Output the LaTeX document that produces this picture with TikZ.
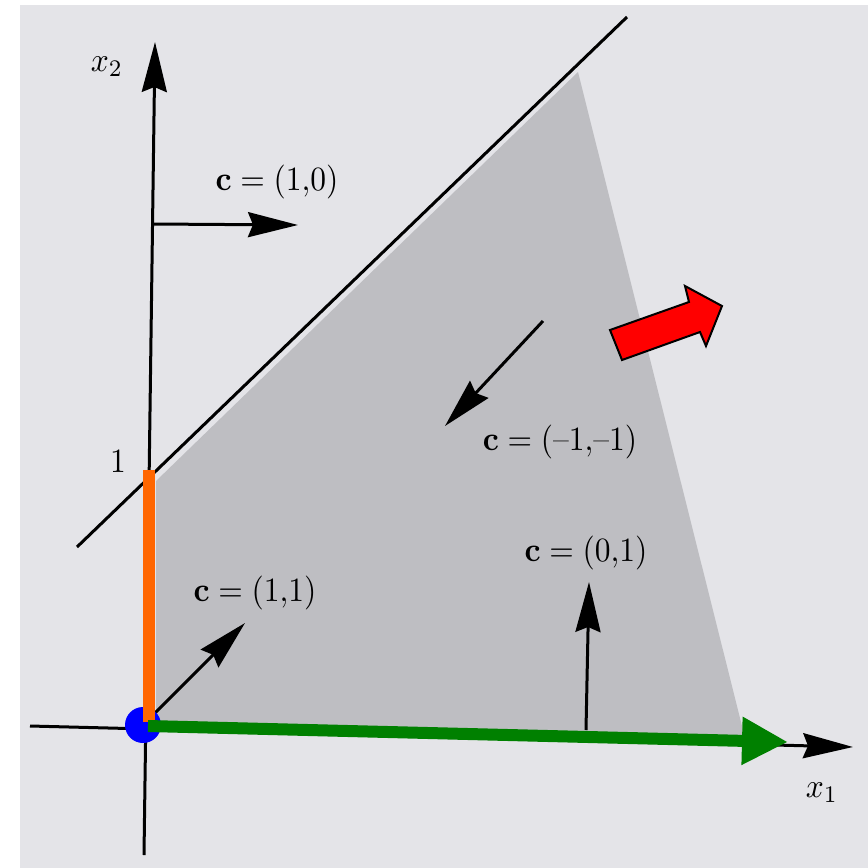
\documentclass[tikz,border=0pt]{standalone}
\usepackage{graphicx}
\usetikzlibrary{arrows.meta}
\definecolor{bgray}{RGB}{228,228,232}
\definecolor{sgray}{RGB}{190,190,194}
\definecolor{myorange}{RGB}{255,102,0}
\definecolor{mygreen}{RGB}{0,128,0}
\definecolor{myblue}{RGB}{0,0,255}
\definecolor{myred}{RGB}{255,0,0}
\newcommand\bigtxt[1]{\scalebox{3.15}[3.4]{#1}}
\tikzset{
  blackarrow/.style={line width=3pt, -{Stealth[length=50pt,width=25pt,inset=5pt]}},
  lab/.style={font=\normalsize, inner sep=0pt},
}
\begin{document}
\begin{tikzpicture}[x=1pt,y=-1pt]
\useasboundingbox (0,0) rectangle (868,868);
\fill[white] (0,0) rectangle (868,868);
\fill[bgray] (20,5) rectangle (868,868);
% feasible region
\fill[sgray] (156,481) -- (578,72) -- (745,738) -- (156,722) -- cycle;
% coordinates
\coordinate (yb) at (144,855);
\coordinate (yt) at (155,42);
\coordinate (xl) at (30,726);
\coordinate (xr) at (853,747);
\coordinate (dl) at (77,547);
\coordinate (dr) at (627,17);
\coordinate (a10s) at (153,224); \coordinate (a10e) at (298,225);
\coordinate (ams) at (543,321);  \coordinate (ame) at (445,426);
\coordinate (a01s) at (586,730); \coordinate (a01e) at (589,582);
\coordinate (a11s) at (155,713); \coordinate (a11e) at (245,623);
% constraint line
\draw[line width=3pt] (dl) -- (dr);
% axes
\draw[blackarrow] (yb) -- (yt);
\draw[blackarrow] (xl) -- (xr);
% objective arrows
\draw[blackarrow] (a10s) -- (a10e);
\draw[blackarrow] (ams) -- (ame);
\draw[blackarrow] (a01s) -- (a01e);
\draw[blackarrow] (a11s) -- (a11e);
% labels
\node[lab] (x2) at (107,67) {\bigtxt{$x_2$}};
\node[lab] (x1) at (822,793) {\bigtxt{$x_1$}};
\node[lab] (one) at (118,462) {\bigtxt{$1$}};
\node[lab] (l10) at (277,182) {\bigtxt{$\mathbf{c} = (1{,}0)$}};
\node[lab] (lmm) at (560,442) {\bigtxt{$\mathbf{c} = (\mbox{--}1{,}\mbox{--}1)$}};
\node[lab] (l01) at (586,553) {\bigtxt{$\mathbf{c} = (0{,}1)$}};
\node[lab] (l11) at (255,593) {\bigtxt{$\mathbf{c} = (1{,}1)$}};
% overlays
\node[circle, fill=myblue, minimum size=36pt, inner sep=0pt] (o) at (143,725) {};
\coordinate (os) at (149,722);
\coordinate (ot) at (149,470);
\draw[myorange, line width=12pt] (os) -- (ot);
\coordinate (gs) at (148,726);
\coordinate (ge) at (788,742);
\draw[mygreen, line width=12pt, -{Triangle[length=46pt,width=45pt]}] (gs) -- (ge);
\fill[myred, draw=black, line width=2pt, line join=miter]
  (610,330) -- (689,302) -- (685,286) -- (722,306) -- (706,346) -- (700,332) -- (622,360) -- cycle;
\end{tikzpicture}
\end{document}
